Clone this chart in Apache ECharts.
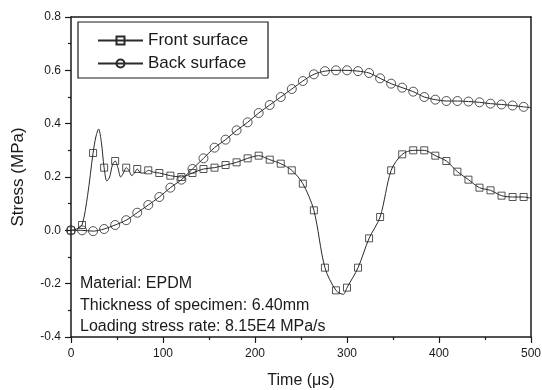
<!DOCTYPE html>
<html>
<head>
<meta charset="utf-8">
<script src="https://cdn.jsdelivr.net/npm/echarts@6/dist/echarts.min.js"></script>
<style>
  html, body { margin: 0; padding: 0; background: #fff; }
  #chart { width: 542px; height: 390px; }
</style>
</head>
<body>
<div id="chart"></div>
<script>
// front surface (squares), time in us, stress in MPa
const frontT = [0, 6, 12, 18, 24, 27, 30, 33, 36, 39, 42, 45, 48, 51, 54, 57, 60, 63, 66, 69, 72, 76, 80, 84, 90, 96,
  108, 120, 132, 144, 156, 168, 180, 192, 204, 216, 228, 240, 252, 264, 276, 288, 296, 300, 312, 324, 336, 348,
  360, 372, 384, 396, 408, 420, 432, 444, 456, 468, 480, 492, 500];
const frontV = [0, 0.005, 0.02, 0.13, 0.29, 0.35, 0.38, 0.33, 0.235, 0.185, 0.2, 0.245, 0.26, 0.235, 0.2, 0.215, 0.235, 0.225, 0.205, 0.215, 0.23, 0.215, 0.215, 0.225, 0.218, 0.215,
  0.205, 0.2, 0.215, 0.23, 0.235, 0.245, 0.255, 0.27, 0.28, 0.265, 0.25, 0.225, 0.175, 0.075, -0.14, -0.225, -0.24, -0.215, -0.14, -0.03, 0.05, 0.225,
  0.285, 0.3, 0.3, 0.28, 0.26, 0.22, 0.19, 0.16, 0.15, 0.13, 0.125, 0.125, 0.12];

// back surface (circles)
const backT = [0, 12, 24, 36, 48, 60, 72, 84, 96, 108, 120, 132, 144, 156, 168, 180, 192, 204, 216, 228, 240, 252,
  264, 276, 288, 300, 312, 324, 336, 348, 360, 372, 384, 396, 408, 420, 432, 444, 456, 468, 480, 492, 500];
const backV = [0, 0, -0.003, 0.005, 0.02, 0.038, 0.066, 0.095, 0.125, 0.16, 0.19, 0.23, 0.27, 0.31, 0.34, 0.375, 0.405, 0.44, 0.47, 0.5, 0.53, 0.56,
  0.585, 0.597, 0.6, 0.6, 0.597, 0.59, 0.57, 0.55, 0.535, 0.52, 0.5, 0.49, 0.485, 0.485, 0.483, 0.48, 0.475, 0.472, 0.468, 0.463, 0.46];

const markStep = 12; // symbols every 12 us
const notes = ['Material: EPDM', 'Thickness of specimen: 6.40mm', 'Loading stress rate: 8.15E4 MPa/s'];

const pairs = (t, v) => t.map((x, i) => [x, v[i]]);
const marks = (t, v) => pairs(t, v).filter(p => p[0] % markStep === 0 && p[0] <= 492);

const ink = '#1a1a1a';
const font = 'Liberation Sans, Arial, sans-serif';

const chart = echarts.init(document.getElementById('chart'));

const option = {
  backgroundColor: '#fff',
  animation: false,
  textStyle: { fontFamily: font, color: ink },
  grid: { left: 71, right: 11, top: 17, bottom: 53, outerBoundsMode: 'none' },
  legend: {
    data: ['Front surface', 'Back surface'],
    orient: 'vertical',
    left: 92,
    top: 27,
    padding: 5,
    itemGap: 6,
    itemWidth: 45,
    itemHeight: 10,
    textStyle: { fontSize: 17, color: ink, fontFamily: font }
  },
  xAxis: [{
    type: 'value',
    min: 0, max: 500, interval: 100,
    name: 'Time (\u03bcs)',
    nameLocation: 'middle',
    nameGap: 36,
    nameTextStyle: { fontSize: 16, color: ink },
    axisLine: { onZero: false, lineStyle: { color: ink, width: 1.5 } },
    axisTick: { inside: false, length: 6, lineStyle: { color: ink, width: 1.2 } },
    minorTick: { show: true, splitNumber: 2, length: 3, lineStyle: { color: ink, width: 1.2 } },
    axisLabel: { fontSize: 12, color: ink, margin: 11 },
    splitLine: { show: false }
  }, {
    type: 'value', position: 'top', min: 0, max: 500,
    axisLine: { show: true, onZero: false, lineStyle: { color: ink, width: 1.5 } },
    axisTick: { show: false }, axisLabel: { show: false }, splitLine: { show: false }
  }],
  yAxis: [{
    type: 'value',
    min: -0.4, max: 0.8, interval: 0.2,
    name: 'Stress (MPa)',
    nameLocation: 'middle',
    nameGap: 44,
    nameTextStyle: { fontSize: 17, color: ink },
    axisLine: { show: true, onZero: false, lineStyle: { color: ink, width: 1.5 } },
    axisTick: { show: true, inside: false, length: 6, lineStyle: { color: ink, width: 1.2 } },
    minorTick: { show: true, splitNumber: 2, length: 3, lineStyle: { color: ink, width: 1.2 } },
    axisLabel: { fontSize: 12, color: ink, margin: 10, formatter: v => v.toFixed(1) },
    splitLine: { show: false }
  }, {
    type: 'value', position: 'right', min: -0.4, max: 0.8,
    axisLine: { show: true, onZero: false, lineStyle: { color: ink, width: 1.5 } },
    axisTick: { show: false }, axisLabel: { show: false }, splitLine: { show: false }
  }],
  graphic: [
    {
      type: 'rect',
      shape: { x: 78, y: 22, width: 190, height: 56 },
      style: { fill: 'none', stroke: ink, lineWidth: 1.2 },
      z: 10
    },
    {
      type: 'text',
      left: 80,
      top: 273,
      style: { text: notes.join('\n'), font: '16px ' + font, fill: ink, lineHeight: 21.5 },
      z: 10
    }
  ],
  series: [
    {
      name: 'Front surface',
      type: 'line',
      smooth: 0.3,
      showSymbol: false,
      symbol: 'rect',
      symbolSize: 7,
      lineStyle: { color: '#2a2a2a', width: 1 },
      itemStyle: { color: 'rgba(0,0,0,0)', borderColor: '#2a2a2a', borderWidth: 1 },
      data: pairs(frontT, frontV),
      z: 3
    },
    {
      name: 'Back surface',
      type: 'line',
      smooth: 0.3,
      showSymbol: false,
      symbol: 'circle',
      symbolSize: 8,
      lineStyle: { color: '#2a2a2a', width: 1 },
      itemStyle: { color: 'rgba(0,0,0,0)', borderColor: '#2a2a2a', borderWidth: 1 },
      data: pairs(backT, backV),
      z: 3
    },
    {
      name: 'Front surface',
      type: 'scatter',
      symbol: 'rect',
      symbolSize: 7,
      itemStyle: { color: 'rgba(0,0,0,0)', borderColor: '#2a2a2a', borderWidth: 1 },
      data: marks(frontT, frontV),
      z: 4
    },
    {
      name: 'Back surface',
      type: 'scatter',
      symbol: 'circle',
      symbolSize: 9,
      itemStyle: { color: 'rgba(0,0,0,0)', borderColor: '#2a2a2a', borderWidth: 1 },
      data: marks(backT, backV),
      z: 4
    }
  ]
};

chart.setOption(option);
</script>
</body>
</html>
